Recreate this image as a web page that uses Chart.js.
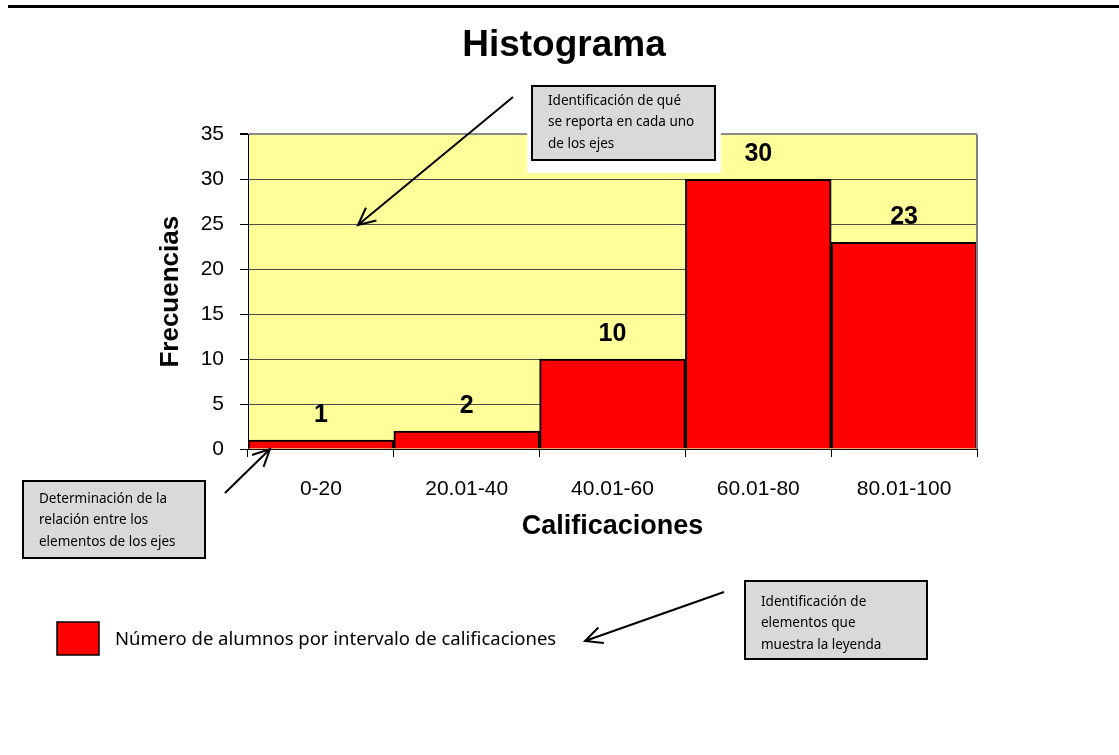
<!DOCTYPE html>
<html>
<head>
<meta charset="utf-8">
<script src="https://cdn.jsdelivr.net/npm/chart.js@4/dist/chart.umd.min.js"></script>
<style>
    html, body { margin: 0; padding: 0; background: #ffffff; }
    canvas { display: block; }
</style>
</head>
<body>
<canvas id="histChart" width="1119" height="755"></canvas>
<script>
// Datos del histograma
const categorias = ['0-20', '20.01-40', '40.01-60', '60.01-80', '80.01-100'];
const frecuencias = [1, 2, 10, 30, 23];
const yMin = 0;
const yMax = 35;
const yPaso = 5;

const tituloGrafica = 'Histograma';
const tituloEjeY = 'Frecuencias';
const tituloEjeX = 'Calificaciones';
const textoLeyenda = 'Número de alumnos por intervalo de calificaciones';

// Textos de los recuadros explicativos
const notaEjes = ['Identificación de qué', 'se reporta en cada uno', 'de los ejes'];
const notaRelacion = ['Determinación de la', 'relación entre los', 'elementos de los ejes'];
const notaLeyenda = ['Identificación de', 'elementos que', 'muestra la leyenda'];

const fuenteArial = 'Arial, "Liberation Sans", sans-serif';
const fuenteNotas = '"Noto Sans", "Open Sans", sans-serif';

Chart.defaults.font.family = fuenteArial;
Chart.defaults.color = '#000000';

// Fondo amarillo del área de trazado
const fondoPlugin = {
    id: 'fondo',
    beforeDraw(chart) {
        const { ctx, chartArea: a } = chart;
        ctx.save();
        ctx.fillStyle = '#FFFF99';
        ctx.fillRect(a.left, a.top, a.right - a.left, a.bottom - a.top);
        ctx.restore();
    },
    afterDraw(chart) {
        // borde derecho gris del área
        const { ctx, chartArea: a } = chart;
        ctx.save();
        ctx.strokeStyle = '#808080';
        ctx.lineWidth = 2;
        ctx.beginPath();
        ctx.moveTo(a.right, a.top);
        ctx.lineTo(a.right, a.bottom);
        ctx.stroke();
        ctx.restore();
    }
};

// Etiquetas de valor sobre cada barra
const etiquetasPlugin = {
    id: 'etiquetas',
    afterDatasetsDraw(chart) {
        const { ctx } = chart;
        const meta = chart.getDatasetMeta(0);
        ctx.save();
        ctx.font = 'bold 25px ' + fuenteArial;
        ctx.fillStyle = '#000000';
        ctx.textAlign = 'center';
        ctx.textBaseline = 'middle';
        meta.data.forEach((bar, i) => {
            ctx.fillText(String(frecuencias[i]), bar.x, bar.y - 25);
        });
        ctx.restore();
    }
};

function flecha(ctx, x1, y1, x2, y2) {
    const ang = Math.atan2(y2 - y1, x2 - x1);
    const largo = 19;
    const abre = 0.45;
    ctx.beginPath();
    ctx.moveTo(x1, y1);
    ctx.lineTo(x2, y2);
    ctx.moveTo(x2 - largo * Math.cos(ang - abre), y2 - largo * Math.sin(ang - abre));
    ctx.lineTo(x2, y2);
    ctx.lineTo(x2 - largo * Math.cos(ang + abre), y2 - largo * Math.sin(ang + abre));
    ctx.stroke();
}

function recuadro(ctx, x, y, w, h, lineas, tx, ty0) {
    ctx.fillStyle = '#D9D9D9';
    ctx.fillRect(x, y, w, h);
    ctx.strokeStyle = '#000000';
    ctx.lineWidth = 2;
    ctx.strokeRect(x, y, w, h);
    ctx.fillStyle = '#000000';
    ctx.font = '13.5px ' + fuenteNotas;
    ctx.textAlign = 'left';
    ctx.textBaseline = 'middle';
    lineas.forEach((t, i) => ctx.fillText(t, tx, ty0 + i * 21.5));
}

// Notas, flechas, leyenda y línea superior
const notasPlugin = {
    id: 'notas',
    afterDraw(chart) {
        const { ctx } = chart;
        ctx.save();

        // línea superior de la página
        ctx.fillStyle = '#000000';
        ctx.fillRect(8, 5, 1111, 3);

        // recuadro blanco detrás de la primera nota
        ctx.fillStyle = '#ffffff';
        ctx.fillRect(527, 85, 194, 88);
        recuadro(ctx, 532, 86, 183, 74, notaEjes, 548, 101);
        recuadro(ctx, 23, 481, 182, 77, notaRelacion, 39, 499);
        recuadro(ctx, 745, 581, 182, 78, notaLeyenda, 761, 602);

        ctx.strokeStyle = '#000000';
        ctx.lineWidth = 2;
        flecha(ctx, 513, 97, 358, 225);
        flecha(ctx, 225, 493, 270, 449);
        flecha(ctx, 724, 592, 585, 641);

        // leyenda
        ctx.fillStyle = '#FF0000';
        ctx.fillRect(57, 622, 42, 33);
        ctx.strokeStyle = '#000000';
        ctx.lineWidth = 1.5;
        ctx.strokeRect(57, 622, 42, 33);
        ctx.fillStyle = '#000000';
        ctx.font = '18.5px ' + fuenteNotas;
        ctx.textAlign = 'left';
        ctx.textBaseline = 'middle';
        ctx.fillText(textoLeyenda, 115, 640);

        ctx.restore();
    }
};

new Chart(document.getElementById('histChart'), {
    type: 'bar',
    data: {
        labels: categorias,
        datasets: [{
            label: textoLeyenda,
            data: frecuencias,
            backgroundColor: '#FF0000',
            borderColor: '#000000',
            borderWidth: 2,
            categoryPercentage: 1.0,
            barPercentage: 1.0
        }]
    },
    options: {
        responsive: false,
        animation: false,
        layout: {
            padding: { left: 151, right: 142, top: 0, bottom: 212 }
        },
        plugins: {
            legend: { display: false },
            tooltip: { enabled: false },
            title: {
                display: true,
                text: tituloGrafica,
                font: { size: 37, weight: 'bold', family: fuenteArial },
                color: '#000000',
                padding: { top: 24, bottom: 66 }
            }
        },
        scales: {
            x: {
                grid: {
                    drawOnChartArea: false,
                    drawTicks: true,
                    tickLength: 8,
                    color: '#000000'
                },
                border: { color: '#000000', width: 1 },
                ticks: {
                    font: { size: 21 },
                    color: '#000000',
                    padding: 20
                },
                title: {
                    display: true,
                    text: tituloEjeX,
                    font: { size: 27, weight: 'bold' },
                    color: '#000000',
                    padding: { top: 0, bottom: 0 }
                },
                afterFit(scale) { scale.height = 94; }
            },
            y: {
                min: yMin,
                max: yMax,
                grid: {
                    color: (c) => (c.tick && c.tick.value === yMax ? '#8a8a8a' : '#4d4d4d'),
                    lineWidth: (c) => (c.tick && c.tick.value === yMax ? 2 : 1),
                    tickLength: 8,
                    tickColor: '#000000'
                },
                border: { color: '#000000', width: 1 },
                ticks: {
                    stepSize: yPaso,
                    font: { size: 21 },
                    color: '#000000',
                    padding: 16
                },
                title: {
                    display: true,
                    text: tituloEjeY,
                    font: { size: 26, weight: 'bold' },
                    color: '#000000',
                    padding: { top: 4, bottom: 10 }
                },
                afterFit(scale) { scale.width = 97; }
            }
        }
    },
    plugins: [fondoPlugin, etiquetasPlugin, notasPlugin]
});
</script>
</body>
</html>
